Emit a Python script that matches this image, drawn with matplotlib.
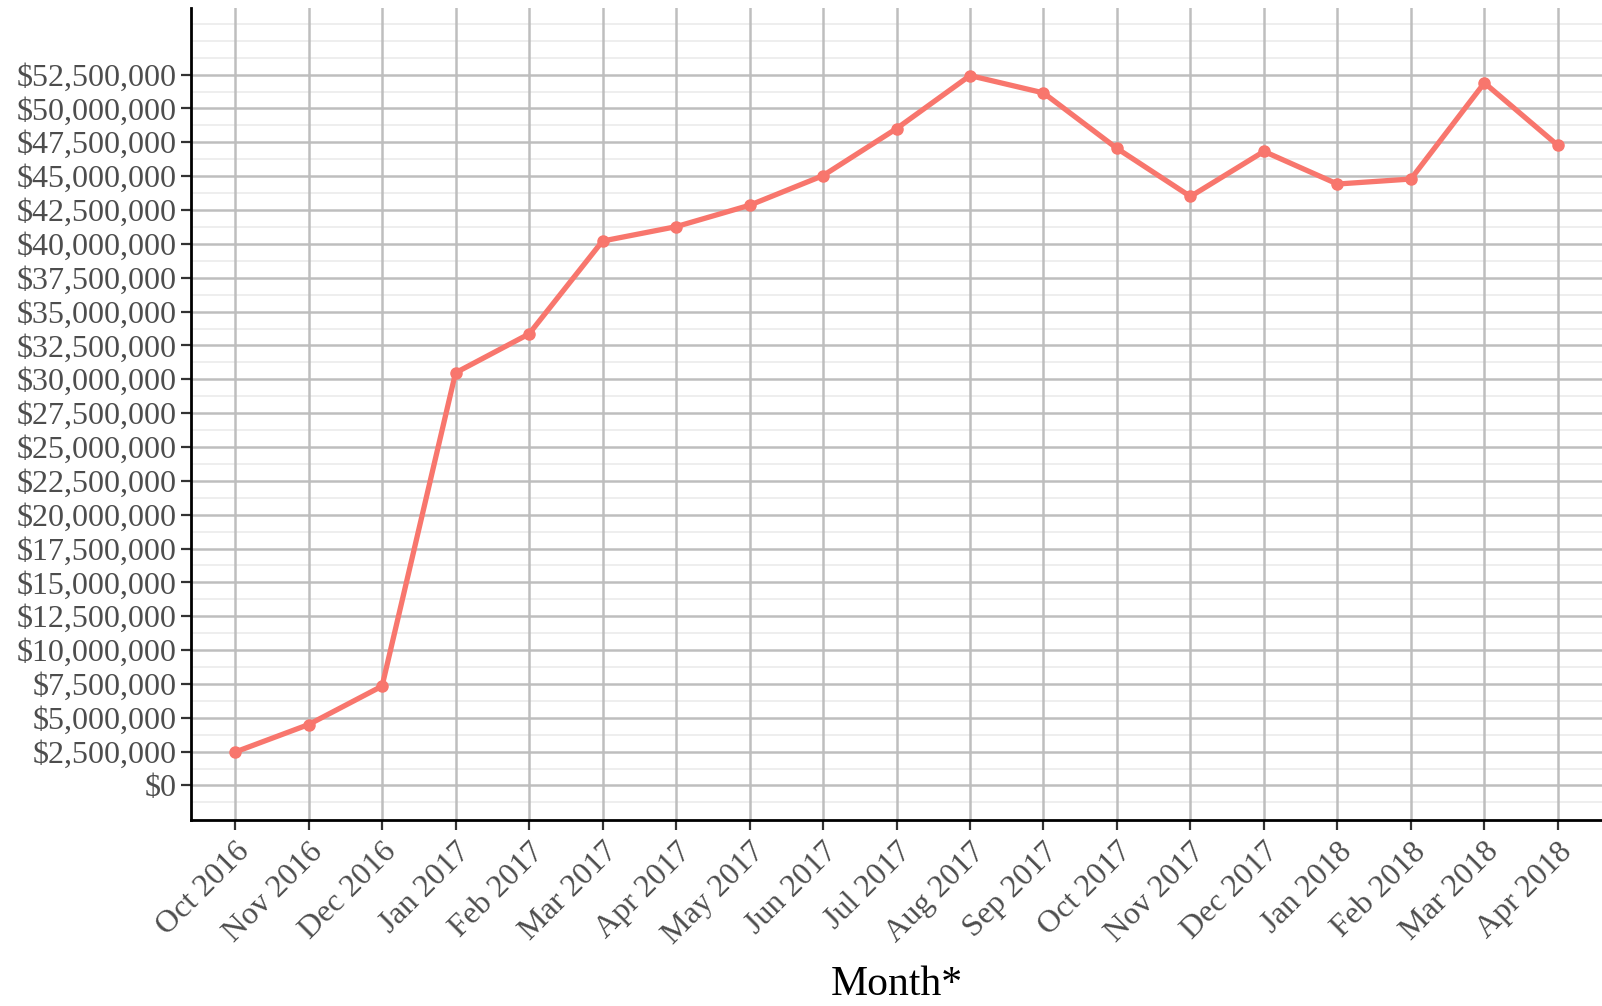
import matplotlib
matplotlib.use("Agg")
import matplotlib.pyplot as plt
from matplotlib.ticker import FuncFormatter, MultipleLocator
import numpy as np

months = ["Oct 2016", "Nov 2016", "Dec 2016", "Jan 2017", "Feb 2017", "Mar 2017",
          "Apr 2017", "May 2017", "Jun 2017", "Jul 2017", "Aug 2017", "Sep 2017",
          "Oct 2017", "Nov 2017", "Dec 2017", "Jan 2018", "Feb 2018", "Mar 2018",
          "Apr 2018"]
values = [2.47e6, 4.50e6, 7.34e6, 30.48e6, 33.35e6, 40.21e6, 41.27e6, 42.85e6,
          45.04e6, 48.51e6, 52.43e6, 51.15e6, 47.05e6, 43.50e6, 46.83e6, 44.42e6,
          44.79e6, 51.89e6, 47.27e6]

plt.rcParams['font.family'] = ['Liberation Serif', 'DejaVu Serif']

fig = plt.figure(figsize=(16.02, 10.06), dpi=100)
ax = fig.add_axes([191/1602, 1 - 820/1006, 1 - 191/1602, (820 - 8)/1006])

x = np.arange(len(months))
ax.plot(x, values, color="#F8766D", linewidth=3.8, marker="o", markersize=8,
        zorder=5, clip_on=False)

ax.set_xlim(-0.6, len(months) - 1 + 0.6)
ax.set_ylim(-2.548e6, 57.42e6)

ax.yaxis.set_minor_locator(MultipleLocator(1.25e6))
ax.yaxis.set_major_formatter(FuncFormatter(lambda v, p: "${:,.0f}".format(v)))

ax.set_xticks(x)
ax.set_xticklabels(months, rotation=45, ha="right", va="top",
                   rotation_mode="anchor", fontsize=23, color="#4d4d4d")

yt = list(np.arange(0, 53e6, 2.5e6))
ax.set_yticks(yt)
ax.tick_params(axis="y", labelsize=23, labelcolor="#4d4d4d", length=7.5, width=1.6,
               color="#333333", pad=3)
ax.tick_params(axis="x", length=7.5, width=1.6, color="#333333", pad=5)
ax.tick_params(axis="y", which="minor", length=0)

# grid lines
ax.set_axisbelow(True)
for v in np.arange(-1.25e6, 57e6, 1.25e6):
    if abs((v / 2.5e6) - round(v / 2.5e6)) < 1e-6 and v <= 52.5e6 + 1:
        continue
    ax.axhline(v, color="#ebebeb", linewidth=1.2, zorder=0)
for v in yt:
    ax.axhline(v, color="#bebebe", linewidth=1.8, zorder=1)
for xi in x:
    ax.axvline(xi, color="#bebebe", linewidth=1.8, zorder=1)

for s in ["top", "right"]:
    ax.spines[s].set_visible(False)
for s in ["left", "bottom"]:
    ax.spines[s].set_linewidth(2)
    ax.spines[s].set_color("black")

ax.set_xlabel("Month*", fontsize=30, color="black", labelpad=11)

fig.savefig("out.png", dpi=100)
